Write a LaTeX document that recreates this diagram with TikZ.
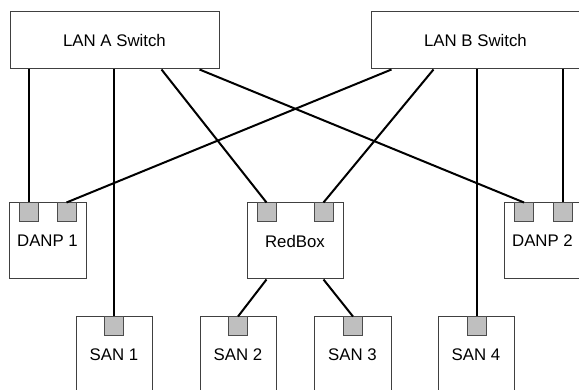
\documentclass[tikz,border=0pt]{standalone}
\usepackage{fontspec}
\setmainfont{Liberation Sans}
\usetikzlibrary{calc}

\begin{document}
\begin{tikzpicture}[
        x=1pt, y=-1pt,
        switch/.style={rectangle, draw=black!75, line width=1pt, fill=white, minimum width=209pt, minimum height=57pt, inner sep=0pt, font=\fontsize{16.8}{20}\selectfont},
        device/.style={rectangle, draw=black!75, line width=1pt, fill=white, minimum height=76pt, inner sep=0pt, font=\fontsize{16.8}{20}\selectfont},
        port/.style={rectangle, draw=black!70, line width=1pt, fill=black!25, minimum size=19pt, inner sep=0pt},
        link/.style={line width=2pt, draw=black}
    ]
        \useasboundingbox (0,0) rectangle (579,390);
        \clip (0,0) rectangle (579,390);

        % switches
        \node[switch] (lanA) at (114.5,40.5) {LAN A Switch};
        \node[switch] (lanB) at (475.5,40.5) {LAN B Switch};

        % middle row
        \node[device, minimum width=77pt] (danpA) at (47.5,241) {DANP 1};
        \node[device, minimum width=96pt] (redbox) at (295,241) {RedBox};
        \node[device, minimum width=76pt] (danpB) at (542.5,241) {DANP 2};

        % bottom row
        \node[device, minimum width=76pt] (san1) at (114,355) {SAN 1};
        \node[device, minimum width=76pt] (san2) at (238,355) {SAN 2};
        \node[device, minimum width=77pt] (san3) at (352.5,355) {SAN 3};
        \node[device, minimum width=76pt] (san4) at (476,355) {SAN 4};

        % ports
        \node[port] (dA1) at (28.5,212.5) {};
        \node[port] (dA2) at (66.5,212.5) {};
        \node[port] (rb1) at (266.5,212.5) {};
        \node[port] (rb2) at (323.5,212.5) {};
        \node[port] (dB1) at (524,212.5) {};
        \node[port] (dB2) at (562.5,212.5) {};
        \node[port] (s1p) at (114,326.5) {};
        \node[port] (s2p) at (238,326.5) {};
        \node[port] (s3p) at (353,326.5) {};
        \node[port] (s4p) at (476.5,326.5) {};

        % taps on the switches
        \coordinate (a3) at ($(lanA.south west)+(152,0)$);
        \coordinate (a4) at ($(lanA.south west)+(190,0)$);
        \coordinate (b1) at ($(lanB.south west)+(21,0)$);
        \coordinate (b2) at ($(lanB.south west)+(63,0)$);

        \draw[link] (dA1.north) -- (dA1.north |- lanA.south);
        \draw[link] (s1p.north) -- (s1p.north |- lanA.south);
        \draw[link] (a3) -- (rb1.north);
        \draw[link] (a4) -- (dB1.north);
        \draw[link] (b1) -- (dA2.north);
        \draw[link] (b2) -- (rb2.north);
        \draw[link] (s4p.north) -- (s4p.north |- lanB.south);
        \draw[link] (dB2.north) -- (dB2.north |- lanB.south);
        \draw[link] (rb1 |- redbox.south) -- (s2p.north);
        \draw[link] (rb2 |- redbox.south) -- (s3p.north);
    \end{tikzpicture}
\end{document}
